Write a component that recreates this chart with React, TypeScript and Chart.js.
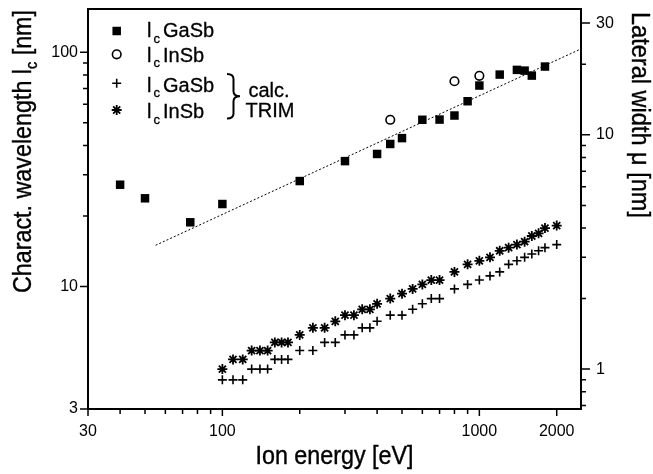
import React, { useEffect, useRef } from 'react';
import { Chart, registerables } from 'chart.js';

Chart.register(...registerables);

// ---------- data ----------
const GASB_E = [40, 50, 75, 100, 200, 300, 400, 450, 500, 600, 700, 800, 900, 1000, 1200, 1400, 1500, 1600, 1800];
const GASB_LC = [27.2, 23.8, 18.8, 22.5, 28.2, 34.3, 36.8, 40.6, 43.0, 51.5, 51.6, 53.7, 61.8, 72.1, 80.3, 84.1, 83.5, 79.5, 86.9];

const INSB_E = [450, 800, 1000];
const INSB_LC = [51.5, 75.2, 79.3];

const TRIM_E = [100, 110, 120, 130, 140, 150, 160, 170, 180, 200, 225, 250, 275, 300, 325, 350, 375, 400, 450, 500, 550, 600, 650, 700, 800, 900, 1000, 1100, 1200, 1300, 1400, 1500, 1600, 1700, 1800, 2000];
const TRIM_GASB_MU = [0.9, 0.9, 0.9, 1.0, 1.0, 1.0, 1.1, 1.1, 1.1, 1.2, 1.2, 1.3, 1.3, 1.4, 1.4, 1.5, 1.5, 1.6, 1.7, 1.7, 1.8, 1.9, 2.0, 2.0, 2.2, 2.3, 2.4, 2.5, 2.6, 2.8, 2.9, 3.0, 3.1, 3.2, 3.3, 3.4];
const TRIM_INSB_MU = [1.0, 1.1, 1.1, 1.2, 1.2, 1.2, 1.3, 1.3, 1.3, 1.4, 1.5, 1.5, 1.6, 1.7, 1.7, 1.8, 1.8, 1.9, 2.0, 2.1, 2.2, 2.3, 2.4, 2.4, 2.6, 2.8, 2.9, 3.0, 3.2, 3.3, 3.4, 3.5, 3.7, 3.8, 4.0, 4.1];

const FIT_E = [55, 2486];
const FIT_LC = [15.0, 103.4];

// axes
const X_MIN = 30;
const X_MAX = 2486;
const Y_MIN = 3;
const Y_MAX = 153;
const LC_PER_MU = 4.44; // lc = pi*sqrt(2)*mu
const X_TICKS = [30, 40, 50, 60, 70, 80, 90, 100, 200, 300, 400, 500, 600, 700, 800, 900, 1000, 2000];
const X_LABELS = [30, 100, 1000, 2000];
const Y_TICKS = [3, 10, 20, 30, 40, 50, 60, 70, 80, 90, 100];
const Y_LABELS = [3, 10, 100];
const Y2_TICKS = [0.7, 0.8, 0.9, 1, 2, 3, 4, 5, 6, 7, 8, 9, 10, 20, 30];
const Y2_LABELS = [1, 10, 30];

const FAMILY = '"Liberation Sans", Arial, Helvetica, sans-serif';

type Seg = { t: string; sub?: boolean };

function drawRich(ctx: CanvasRenderingContext2D, segs: Seg[], x: number, y: number, angle: number, size: number, targetWidth: number) {
  ctx.save();
  ctx.translate(x, y);
  ctx.rotate(angle);
  const fontFor = (sg: Seg) => `${sg.sub ? Math.round(size * 0.62) : size}px ${FAMILY}`;
  const widths = segs.map((sg) => {
    ctx.font = fontFor(sg);
    return ctx.measureText(sg.t).width;
  });
  const total = widths.reduce((a, b) => a + b, 0);
  ctx.scale(targetWidth / total, 1);
  ctx.fillStyle = '#000';
  ctx.strokeStyle = '#000';
  ctx.lineWidth = 0.4;
  ctx.textAlign = 'left';
  ctx.textBaseline = 'alphabetic';
  let cx = -total / 2;
  segs.forEach((sg, i) => {
    ctx.font = fontFor(sg);
    const yy = sg.sub ? size * 0.24 : 0;
    ctx.fillText(sg.t, cx, yy);
    ctx.strokeText(sg.t, cx, yy);
    cx += widths[i];
  });
  ctx.restore();
}

function marker(ctx: CanvasRenderingContext2D, kind: string, x: number, y: number) {
  ctx.save();
  ctx.strokeStyle = '#000';
  ctx.fillStyle = '#000';
  if (kind === 'rect') {
    const s = 4.25;
    ctx.fillRect(x - s, y - s, 2 * s, 2 * s);
  } else if (kind === 'circle') {
    ctx.lineWidth = 1.6;
    ctx.beginPath();
    ctx.arc(x, y, 4.3, 0, Math.PI * 2);
    ctx.stroke();
  } else if (kind === 'cross') {
    ctx.lineWidth = 1.6;
    const r = 4.5;
    ctx.beginPath();
    ctx.moveTo(x - r, y); ctx.lineTo(x + r, y);
    ctx.moveTo(x, y - r); ctx.lineTo(x, y + r);
    ctx.stroke();
  } else if (kind === 'star') {
    ctx.lineWidth = 1.8;
    const r = 5;
    const d = r * Math.SQRT1_2;
    ctx.beginPath();
    ctx.moveTo(x - r, y); ctx.lineTo(x + r, y);
    ctx.moveTo(x, y - r); ctx.lineTo(x, y + r);
    ctx.moveTo(x - d, y - d); ctx.lineTo(x + d, y + d);
    ctx.moveTo(x - d, y + d); ctx.lineTo(x + d, y - d);
    ctx.stroke();
  }
  ctx.restore();
}

const decorPlugin = {
  id: 'decor',
  afterDraw(chart: any) {
    const ctx: CanvasRenderingContext2D = chart.ctx;
    const { left, right, top, bottom } = chart.chartArea;
    const sx = chart.scales.x;
    const sy = chart.scales.y;
    const sy2 = chart.scales.y2;
    ctx.save();
    ctx.strokeStyle = '#000';
    ctx.lineWidth = 2;
    ctx.strokeRect(left, top, right - left, bottom - top);

    ctx.lineWidth = 1.5;
    ctx.beginPath();
    X_TICKS.forEach((v) => {
      const p = sx.getPixelForValue(v);
      const len = X_LABELS.includes(v) ? 7 : 5;
      ctx.moveTo(p, bottom);
      ctx.lineTo(p, bottom + len);
    });
    Y_TICKS.forEach((v) => {
      const p = sy.getPixelForValue(v);
      const len = Y_LABELS.includes(v) ? 8 : 5;
      ctx.moveTo(left, p);
      ctx.lineTo(left - len, p);
    });
    Y2_TICKS.forEach((v) => {
      const p = sy2.getPixelForValue(v);
      const len = Y2_LABELS.includes(v) ? 9 : 5;
      ctx.moveTo(right, p);
      ctx.lineTo(right + len, p);
    });
    ctx.stroke();
    ctx.restore();

    // axis titles
    drawRich(ctx, [{ t: 'Ion energy [eV]' }], (left + right) / 2, 463.5, 0, 26, 158);
    drawRich(ctx, [{ t: 'Charact. wavelength l' }, { t: 'c', sub: true }, { t: ' [nm]' }], 31, 151.5, -Math.PI / 2, 26, 283);
    drawRich(ctx, [{ t: 'Lateral width \u03bc [nm]' }], 632, 115, Math.PI / 2, 26, 206);

    // legend
    const rows = [
      { kind: 'rect', my: 31, base: 37.3, name: 'GaSb' },
      { kind: 'circle', my: 54.3, base: 61.7, name: 'InSb' },
      { kind: 'cross', my: 83.3, base: 91.7, name: 'GaSb' },
      { kind: 'star', my: 110, base: 118.3, name: 'InSb' },
    ];
    ctx.save();
    ctx.fillStyle = '#000';
    ctx.strokeStyle = '#000';
    ctx.lineWidth = 0.3;
    ctx.textAlign = 'left';
    ctx.textBaseline = 'alphabetic';
    const txt = (t: string, x: number, y: number) => {
      ctx.fillText(t, x, y);
      ctx.strokeText(t, x, y);
    };
    rows.forEach((r) => {
      marker(ctx, r.kind, 116.7, r.my);
      ctx.font = `20px ${FAMILY}`;
      txt('l', 147, r.base);
      ctx.font = `13px ${FAMILY}`;
      txt('c', 153.5, r.base + 5.5);
      ctx.font = `20px ${FAMILY}`;
      txt(r.name, 163, r.base);
    });
    // brace
    const x0 = 227, xm = 233.5, x1 = 240, y0 = 74, y1 = 118.5, ym = 96.3, rr = 5;
    ctx.lineWidth = 2;
    ctx.beginPath();
    ctx.moveTo(x0, y0);
    ctx.quadraticCurveTo(xm, y0, xm, y0 + rr);
    ctx.lineTo(xm, ym - rr);
    ctx.quadraticCurveTo(xm, ym, x1, ym);
    ctx.quadraticCurveTo(xm, ym, xm, ym + rr);
    ctx.lineTo(xm, y1 - rr);
    ctx.quadraticCurveTo(xm, y1, x0, y1);
    ctx.stroke();
    ctx.lineWidth = 0.3;
    ctx.textAlign = 'center';
    ctx.font = `20px ${FAMILY}`;
    txt('calc.', 269, 97.3);
    txt('TRIM', 270, 116.7);
    ctx.restore();
  },
};

const tickFont = { family: FAMILY, size: 16 };

function zeroPad(s: any) {
  s.paddingTop = 0;
  s.paddingBottom = 0;
  s.paddingLeft = 0;
  s.paddingRight = 0;
}

export default function App() {
  const ref = useRef<HTMLCanvasElement | null>(null);
  useEffect(() => {
    if (!ref.current) return;
    const pts = (xs: number[], ys: number[]) => xs.map((x, i) => ({ x, y: ys[i] }));
    const chart = new Chart(ref.current, {
      type: 'scatter',
      data: {
        datasets: [
          {
            label: 'fit',
            data: pts(FIT_E, FIT_LC),
            showLine: true,
            borderColor: '#000',
            borderWidth: 1,
            borderDash: [2, 2],
            pointRadius: 0,
            xAxisID: 'x',
            yAxisID: 'y',
          },
          {
            label: 'lc GaSb',
            data: pts(GASB_E, GASB_LC),
            pointStyle: 'rect',
            pointRadius: 6,
            backgroundColor: '#000',
            borderColor: '#000',
            borderWidth: 0,
            xAxisID: 'x',
            yAxisID: 'y',
          },
          {
            label: 'lc InSb',
            data: pts(INSB_E, INSB_LC),
            pointStyle: 'circle',
            pointRadius: 4.3,
            backgroundColor: 'rgba(0,0,0,0)',
            borderColor: '#000',
            borderWidth: 1.6,
            xAxisID: 'x',
            yAxisID: 'y',
          },
          {
            label: 'TRIM GaSb',
            data: pts(TRIM_E, TRIM_GASB_MU),
            pointStyle: 'cross',
            pointRadius: 4.5,
            borderColor: '#000',
            borderWidth: 1.6,
            xAxisID: 'x',
            yAxisID: 'y2',
          },
          {
            label: 'TRIM InSb',
            data: pts(TRIM_E, TRIM_INSB_MU),
            pointStyle: 'star',
            pointRadius: 5,
            borderColor: '#000',
            borderWidth: 1.8,
            xAxisID: 'x',
            yAxisID: 'y2',
          },
        ],
      },
      options: {
        responsive: false,
        animation: false,
        events: [],
        layout: { padding: { top: 9, left: 0, right: 0, bottom: 0 } },
        plugins: { legend: { display: false }, tooltip: { enabled: false }, title: { display: false } },
        scales: {
          x: {
            type: 'logarithmic',
            position: 'bottom',
            min: X_MIN,
            max: X_MAX,
            grid: { display: false, drawTicks: false },
            border: { display: false },
            ticks: {
              autoSkip: false,
              maxRotation: 0,
              padding: 13,
              color: '#000',
              font: tickFont,
              callback: (v: any) => (X_LABELS.includes(Number(v)) ? String(v) : ''),
            },
            afterBuildTicks: (s: any) => {
              s.ticks = X_TICKS.map((v) => ({ value: v }));
            },
            afterFit: (s: any) => {
              s.height = 65;
              zeroPad(s);
            },
          },
          y: {
            type: 'logarithmic',
            position: 'left',
            min: Y_MIN,
            max: Y_MAX,
            grid: { display: false, drawTicks: false },
            border: { display: false },
            ticks: {
              autoSkip: false,
              padding: 10,
              color: '#000',
              font: tickFont,
              callback: (v: any) => (Y_LABELS.includes(Number(v)) ? String(v) : ''),
            },
            afterBuildTicks: (s: any) => {
              s.ticks = Y_TICKS.map((v) => ({ value: v }));
            },
            afterFit: (s: any) => {
              s.width = 88;
              zeroPad(s);
            },
          },
          y2: {
            type: 'logarithmic',
            position: 'right',
            min: Y_MIN / LC_PER_MU,
            max: Y_MAX / LC_PER_MU,
            grid: { display: false, drawTicks: false },
            border: { display: false },
            ticks: {
              autoSkip: false,
              padding: 15,
              color: '#000',
              font: tickFont,
              callback: (v: any) => (Y2_LABELS.includes(Number(v)) ? String(v) : ''),
            },
            afterBuildTicks: (s: any) => {
              s.ticks = Y2_TICKS.map((v) => ({ value: v }));
            },
            afterFit: (s: any) => {
              s.width = 72;
              zeroPad(s);
            },
          },
        },
      },
      plugins: [decorPlugin],
    } as any);
    return () => chart.destroy();
  }, []);
  return (
    <div style={{ position: 'absolute', left: 0, top: 0, width: 653, height: 474, background: '#fff' }}>
      <canvas ref={ref} width={653} height={474} style={{ display: 'block' }} />
    </div>
  );
}
